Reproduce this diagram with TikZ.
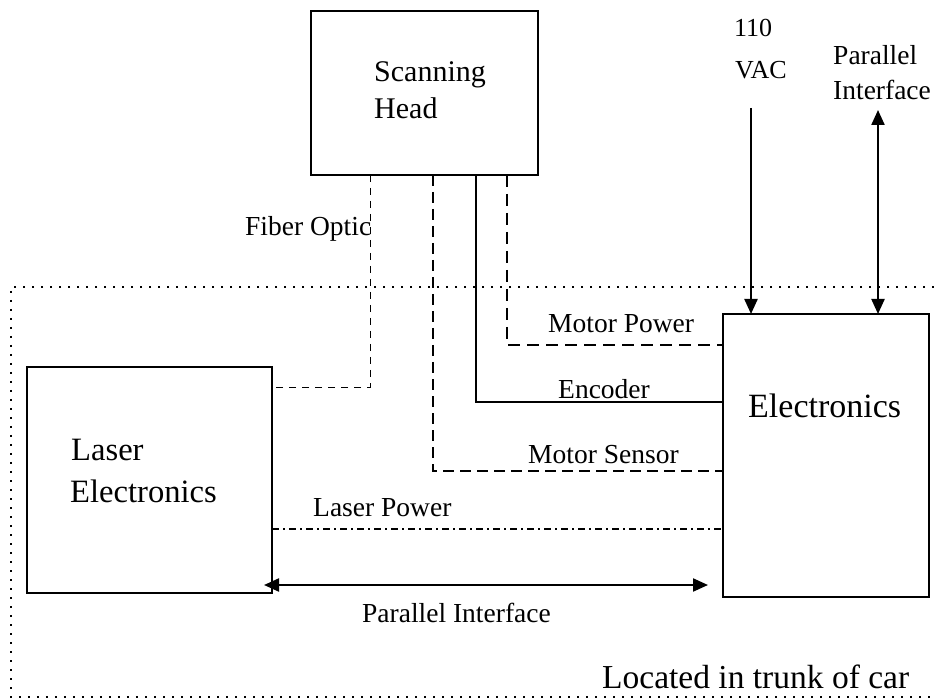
\documentclass[tikz,border=0pt]{standalone}
\usepackage{fontspec}
\setmainfont{Liberation Serif}
\usetikzlibrary{arrows.meta}
\begin{document}
\begin{tikzpicture}[x=1pt,y=-1pt,
  box/.style={draw,line width=1.8pt,inner sep=0,outer sep=0,anchor=north west},
  txt/.style={inner sep=0,anchor=base west},
  small/.style={txt,font=\fontsize{27.5}{33}\selectfont},
  border/.style={line width=1.8pt,dash pattern=on 1.8pt off 7.2pt},
  fiber/.style={line width=1pt,dash pattern=on 7pt off 6pt},
  motorpow/.style={line width=1.3pt,dash pattern=on 12pt off 7pt},
  motorsen/.style={line width=1.5pt,dash pattern=on 11pt off 6pt},
  encline/.style={line width=1.6pt},
  laserpow/.style={line width=1.2pt,dash pattern=on 7pt off 4pt on 2pt off 4pt},
  tip/.tip={Triangle[length=15pt,width=13pt]},
  arr/.style={line width=2.2pt,-tip},
  dbl/.style={line width=2.2pt,tip-tip}]
\useasboundingbox (0,0) rectangle (934,700);

% enclosure: the trunk of the car
\draw[border] (934,287) -| (11,697) -- (934,697);

% blocks
\node[box,minimum width=227pt,minimum height=164pt] (sh) at (311,11) {};
\node[box,minimum width=245pt,minimum height=226pt] (le) at (27,367) {};
\node[box,minimum width=206pt,minimum height=283pt] (el) at (723,314) {};

% block titles
\node[txt,font=\fontsize{30}{36}\selectfont] (shA) at (374,82) {Scanning};
\node[txt,font=\fontsize{30}{36}\selectfont] (shB) at (374,119) {Head};
\node[txt,font=\fontsize{32.6}{38}\selectfont] (leA) at (71,460) {Laser};
\node[txt,font=\fontsize{32.6}{38}\selectfont] (leB) at (70,502) {Electronics};
\node[txt,font=\fontsize{34}{40}\selectfont] (elA) at (748,417) {Electronics};
\node[txt,font=\fontsize{33.5}{40}\selectfont] (trunk) at (602,688) {Located in trunk of car};

% bend positions of the cables
\coordinate (xfo) at (370,0);  \coordinate (yfo) at (0,387);
\coordinate (xms) at (433,0);  \coordinate (yms) at (0,471);
\coordinate (xen) at (476,0);  \coordinate (yen) at (0,402);
\coordinate (xmp) at (507,0);  \coordinate (ymp) at (0,345);
\coordinate (ylp) at (0,529);
\coordinate (ypi) at (0,585);

% cables between the blocks
\draw[fiber] (sh.south -| xfo) |- (le.east |- yfo);
\draw[motorsen] (sh.south -| xms) |- (el.west |- yms);
\draw[encline] (sh.south -| xen) |- (el.west |- yen);
\draw[motorpow] (sh.south -| xmp) |- (el.west |- ymp);
\draw[laserpow] (le.east |- ylp) -- (el.west |- ylp);
\draw[dbl,shorten <=-8pt,shorten >=15pt] (le.east |- ypi) -- (el.west |- ypi);

% external connections
\coordinate (vac) at (751,108);
\coordinate (pif) at (878,110);
\draw[arr] (vac) -- (el.north -| vac);
\draw[dbl] (pif) -- (el.north -| pif);

% cable labels
\node[small] (lfo) at (245,236) {Fiber Optic};
\node[small] (lmp) at (548,333) {Motor Power};
\node[small] (len) at (558,398) {Encoder};
\node[small] (lms) at (528,463) {Motor Sensor};
\node[small] (llp) at (313,516) {Laser Power};
\node[small] (lpi) at (362,622) {Parallel Interface};
\node[txt,font=\fontsize{26}{31}\selectfont] (lva) at (734,37) {110};
\node[txt,font=\fontsize{26}{31}\selectfont] (lvb) at (735,79) {VAC};
\node[small] (lpa) at (833,65) {Parallel};
\node[small] (lpb) at (833,100) {Interface};
\end{tikzpicture}
\end{document}
